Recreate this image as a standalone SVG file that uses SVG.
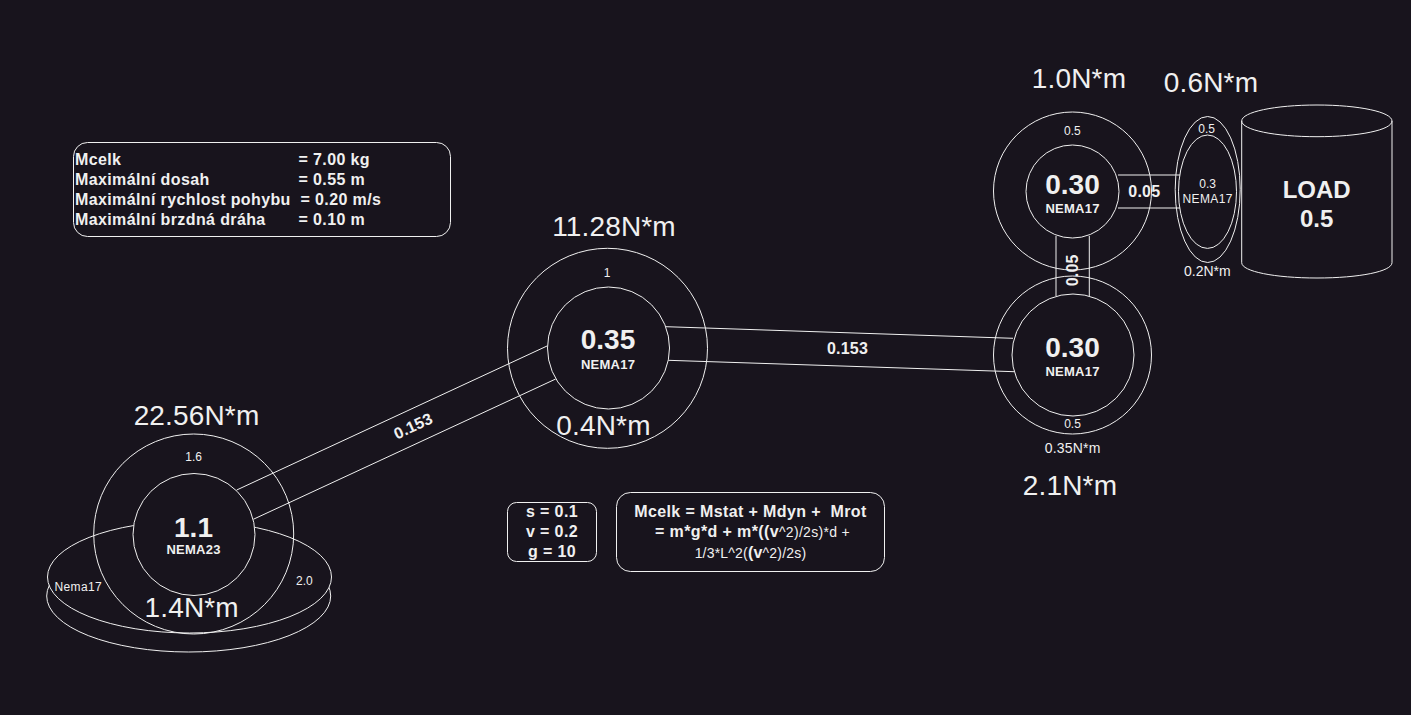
<svg xmlns="http://www.w3.org/2000/svg" width="1411" height="715" viewBox="0 0 1411 715">
<style>
.s{fill:none;stroke:#f0f0f0;stroke-width:1}
.f{fill:#18141d;stroke:#f0f0f0;stroke-width:1}
text{font-family:"Liberation Sans",Arial,sans-serif;fill:#f0f0f0;text-anchor:middle}
.b{font-weight:bold}
.t28{font-size:28px;letter-spacing:.15px}
.v{font-size:28px;font-weight:bold}
.m{font-size:13px;font-weight:bold;letter-spacing:.25px}
.r12{font-size:12px}
.w12{font-size:12px;letter-spacing:.4px}
.r14{font-size:14px;letter-spacing:.2px}
.l{font-size:16px;font-weight:bold;letter-spacing:.2px}
.p{font-size:16px;font-weight:bold;letter-spacing:.38px}
.left{text-anchor:start}
.n{font-weight:normal;font-size:14px;letter-spacing:.3px}
.h{font-weight:bold;font-size:16px}
</style>
<rect width="1411" height="715" fill="#18141d"/>
<g id="connectors">
<path class="s" d="M236.7 490L547.7 345.7M253.3 519.3L555.7 379"/>
<path class="s" d="M666 326.7L1013 338.3M668.3 360.3L1014 371.7"/>
<path class="s" d="M1056 236V296M1089.3 236V296"/>
<path class="s" d="M1118 175H1180M1118 208H1180"/>
<text class="l" transform="translate(415.5 431) rotate(-25)">0.153</text>
<text class="l" x="847.5" y="354">0.153</text>
<text class="l" x="1144.3" y="196.7">0.05</text>
<text class="l" transform="translate(1078 270.3) rotate(-90)">0.05</text>
</g>
<g id="motor-nema23">
<ellipse class="f" cx="188.700" cy="596" rx="142" ry="56"/>
<ellipse class="f" cx="189.500" cy="577" rx="142" ry="56"/>
<circle class="s" cx="193.700" cy="534" r="100"/>
<circle class="f" cx="194" cy="534.500" r="61"/>
<text class="v" x="193.500" y="537">1.1</text>
<text class="m" x="193.500" y="554">NEMA23</text>
<text class="r12" x="193.700" y="461">1.6</text>
<text class="w12" x="78.300" y="590.700">Nema17</text>
<text class="r12" x="304.300" y="585">2.0</text>
<text class="t28" x="196.500" y="425">22.56N*m</text>
<text class="t28" x="191.700" y="616.700">1.4N*m</text>
</g>
<g id="motor-mid">
<circle class="s" cx="607.500" cy="348.300" r="100"/>
<circle class="f" cx="608.500" cy="348" r="61"/>
<text class="v" x="608" y="349.300">0.35</text>
<text class="m" x="608" y="368.700">NEMA17</text>
<text class="r12" x="607" y="276.700">1</text>
<text class="t28" x="614" y="236">11.28N*m</text>
<text class="t28" x="603.500" y="435">0.4N*m</text>
</g>
<g id="motor-lower-right">
<circle class="s" cx="1072.500" cy="355" r="79"/>
<circle class="f" cx="1073" cy="355" r="61"/>
<text class="v" x="1072.500" y="357">0.30</text>
<text class="m" x="1072.500" y="376">NEMA17</text>
<text class="r12" x="1072.500" y="427.700">0.5</text>
<text class="r14" x="1072.700" y="453">0.35N*m</text>
<text class="t28" x="1070" y="495">2.1N*m</text>
</g>
<g id="motor-upper-right">
<circle class="s" cx="1072.500" cy="191" r="79"/>
<circle class="f" cx="1072.500" cy="191.500" r="46.500"/>
<text class="v" x="1072.500" y="194">0.30</text>
<text class="m" x="1072.500" y="212.700">NEMA17</text>
<text class="r12" x="1072.300" y="134.700">0.5</text>
<text class="t28" x="1079" y="87.700">1.0N*m</text>
</g>
<g id="motor-end">
<ellipse class="s" cx="1207.700" cy="189.500" rx="32.500" ry="73"/>
<ellipse class="s" cx="1207.500" cy="191.700" rx="29" ry="56.700"/>
<text class="r12" x="1206.700" y="132.700">0.5</text>
<text class="r12" x="1207.700" y="188">0.3</text>
<text class="w12" x="1207.700" y="203">NEMA17</text>
<text font-size="14" x="1207.300" y="276">0.2N*m</text>
<text class="t28" x="1211" y="91.700">0.6N*m</text>
</g>
<g id="load">
<path class="s" d="M1241.700 121C1241.700 112 1275 105 1317 105S1392 112 1392 121V262.700C1392 271.500 1359 278 1317 278S1241.700 271.500 1241.700 262.700ZM1241.700 121C1241.700 130 1275 136.700 1317 136.700S1392 130 1392 121"/>
<text class="b" font-size="24" x="1316.700" y="198">LOAD</text>
<text class="b" font-size="24" x="1316.700" y="227">0.5</text>
</g>
<g id="params">
<rect class="s" x="73.500" y="142.500" width="377" height="94" rx="14"/>
<text class="p left" x="75" y="165">Mcelk<tspan x="298.500">= 7.00 kg</tspan></text>
<text class="p left" x="75" y="185">Maximální dosah<tspan x="298.500">= 0.55 m</tspan></text>
<text class="p left" x="75" y="205">Maximální rychlost pohybu<tspan x="300.500">= 0.20 m/s</tspan></text>
<text class="p left" x="75" y="225">Maximální brzdná dráha<tspan x="298.500">= 0.10 m</tspan></text>
</g>
<g id="constants">
<rect class="s" x="507.500" y="502.500" width="89" height="59" rx="9"/>
<text class="p" x="552" y="516.700">s = 0.1</text>
<text class="p" x="552" y="536.700">v = 0.2</text>
<text class="p" x="552" y="557">g = 10</text>
</g>
<g id="formula">
<rect class="s" x="616.500" y="492.500" width="268" height="79" rx="14"/>
<text class="p" xml:space="preserve" x="750.500" y="516.700">Mcelk = Mstat + Mdyn +  Mrot</text>
<text class="p" x="752.500" y="536.700">= m*g*d + m*((v<tspan class="n">^2)/2s)*d +</tspan></text>
<text class="r14" x="750.500" y="557.700">1/3*L^2(<tspan class="h">(v</tspan>^2)/2s)</text>
</g>
</svg>
